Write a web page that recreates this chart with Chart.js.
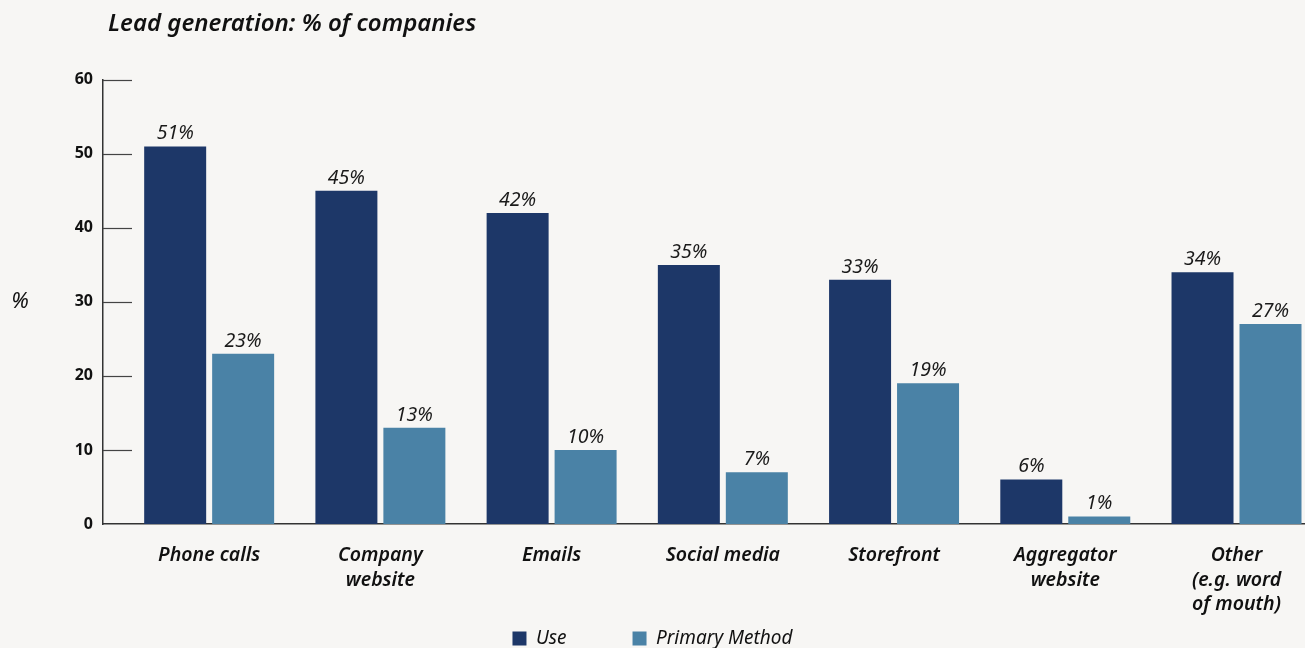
<!DOCTYPE html>
<html>
<head>
<meta charset="utf-8">
<title>Lead generation</title>
<script src="https://cdn.jsdelivr.net/npm/chart.js@4/dist/chart.umd.min.js"></script>
<style>
  html, body { margin: 0; padding: 0; background: #f7f6f4; overflow: hidden; }
  #wrap { position: relative; width: 1305px; height: 648px; overflow: hidden; }
  #box { position: relative; width: 1305px; height: 658px; }
</style>
</head>
<body>
<div id="wrap"><div id="box"><canvas id="chart"></canvas></div></div>
<script>
// lead generation channels, % of companies
const categories = [
  ['Phone calls'],
  ['Company', 'website'],
  ['Emails'],
  ['Social media'],
  ['Storefront'],
  ['Aggregator', 'website'],
  ['Other', '(e.g. word', 'of mouth)']
];
const useValues = [51, 45, 42, 35, 33, 6, 34];
const primaryValues = [23, 13, 10, 7, 19, 1, 27];
const yTicks = [0, 10, 20, 30, 40, 50, 60];

const FONT = "'Noto Sans', sans-serif";
const NAVY = '#1d3768';
const STEEL = '#4a82a6';

// short inward tick marks on the y axis + the loose "%" label
const axisMarks = {
  id: 'axisMarks',
  afterLayout(chart) {
    // nudge the title a little right of the y axis line
    if (chart.titleBlock) chart.titleBlock.left += 5;
  },
  afterDraw(chart) {
    const { ctx, chartArea, scales: { y } } = chart;
    ctx.save();
    ctx.strokeStyle = '#444';
    ctx.lineWidth = 1.2;
    y.ticks.forEach(t => {
      if (t.value === 0) return;
      const py = Math.round(y.getPixelForValue(t.value)) + 0.5;
      ctx.beginPath();
      ctx.moveTo(chartArea.left, py);
      ctx.lineTo(chartArea.left + 29, py);
      ctx.stroke();
    });
    ctx.fillStyle = '#111';
    ctx.font = `italic 22px ${FONT}`;
    ctx.textAlign = 'center';
    ctx.textBaseline = 'middle';
    ctx.fillText('%', 20, y.getPixelForValue(30));
    ctx.restore();
  }
};

// value labels above each bar
const barValues = {
  id: 'barValues',
  afterDatasetsDraw(chart) {
    const { ctx } = chart;
    ctx.save();
    ctx.fillStyle = '#1a1a1a';
    ctx.font = `italic 19.5px ${FONT}`;
    ctx.textAlign = 'center';
    ctx.textBaseline = 'bottom';
    chart.data.datasets.forEach((ds, di) => {
      chart.getDatasetMeta(di).data.forEach((bar, i) => {
        ctx.fillText(ds.data[i].y + '%', bar.x, bar.y - 3);
      });
    });
    ctx.restore();
  }
};

new Chart(document.getElementById('chart'), {
  type: 'bar',
  data: {
    datasets: [
      { label: 'Use', data: useValues.map((v, i) => ({ x: i, y: v })), backgroundColor: NAVY },
      { label: 'Primary Method', data: primaryValues.map((v, i) => ({ x: i, y: v })), backgroundColor: STEEL }
    ]
  },
  options: {
    responsive: true,
    maintainAspectRatio: false,
    animation: false,
    categoryPercentage: 0.794,
    barPercentage: 0.912,
    layout: { padding: 0 },
    plugins: {
      title: {
        display: true,
        fullSize: false,
        text: 'Lead generation: % of companies',
        align: 'start',
        color: '#111',
        font: { family: FONT, size: 24, style: 'italic', weight: '600' },
        padding: { top: 10, bottom: 41 }
      },
      legend: {
        position: 'bottom',
        labels: {
          color: '#111',
          boxWidth: 14,
          boxHeight: 14,
          padding: 66,
          font: { family: FONT, size: 19, style: 'italic' }
        }
      },
      tooltip: { enabled: false }
    },
    scales: {
      x: {
        type: 'linear',
        min: -0.62,
        max: 6.4,
        offset: false,
        grid: { display: false, drawTicks: false },
        border: { display: true, color: '#333', width: 1.5 },
        afterBuildTicks: s => { s.ticks = categories.map((_, i) => ({ value: i })); },
        // labels run down past the legend's top padding, so don't clip them to the axis box
        afterFit: s => { s.height = 39; s._computeLabelArea = () => undefined; },
        ticks: {
          autoSkip: false,
          maxRotation: 0,
          padding: 19,
          color: '#111',
          font: { family: FONT, size: 19.5, style: 'italic', weight: '600', lineHeight: 1.27 },
          callback: v => categories[v]
        }
      },
      y: {
        min: 0,
        max: 60,
        grid: { display: false, drawTicks: false },
        border: { display: true, color: '#333', width: 1.5 },
        afterBuildTicks: s => { s.ticks = yTicks.map(v => ({ value: v })); },
        afterFit: s => { s.width = 103; },
        ticks: {
          padding: 10,
          color: '#111',
          font: { family: FONT, size: 16, weight: 'bold' }
        }
      }
    }
  },
  plugins: [axisMarks, barValues]
});
</script>
</body>
</html>
